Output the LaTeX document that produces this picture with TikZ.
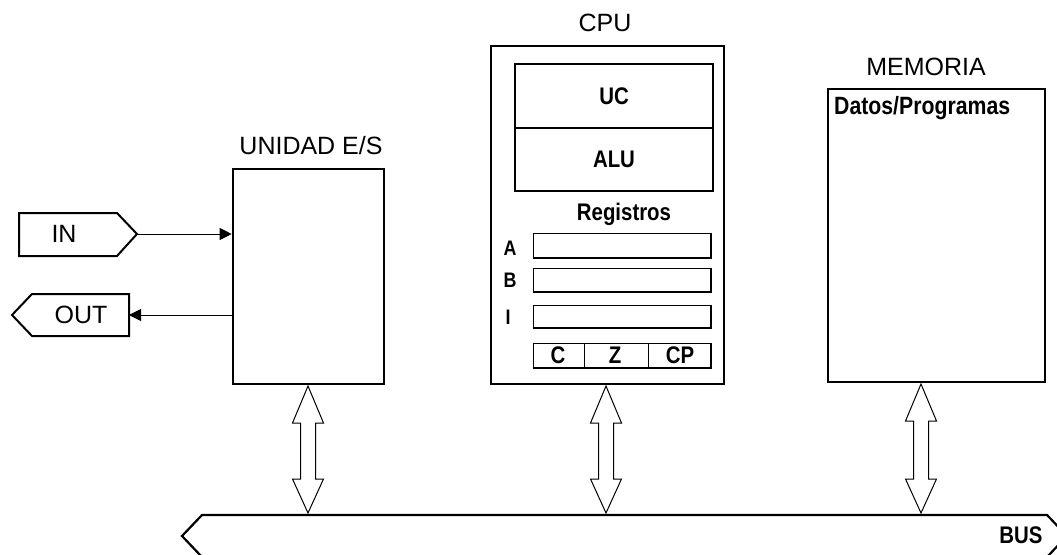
\documentclass[tikz,border=0pt]{standalone}
\usepackage{fontspec}
\setmainfont{Liberation Sans}
\newfontfamily\narrowbold[FakeStretch=0.85]{Liberation Sans Bold}
\usetikzlibrary{arrows.meta,calc}
\tikzset{
  outerbox/.style={draw, line width=2.6pt, inner sep=0pt},
  innerbox/.style={draw, line width=1.2pt, inner sep=0pt},
  regbox/.style={draw, line width=1pt, inner sep=0pt, minimum width=177pt},
  title/.style={inner sep=0pt, font=\fontsize{25}{28}\selectfont},
  lbl/.style={inner sep=0pt, font=\fontsize{24}{26}\narrowbold},
  tagline/.style={line width=2pt, line join=miter},
  sigarrow/.style={line width=1pt, -{Triangle[length=12pt,width=12pt]}},
  dbl/.style={draw, line width=1pt, fill=white, line join=miter},
}
\newcommand\dblarrow[2]{%
  \path[dbl] let \p1=(#1), \p2=(#2) in
    (\x1,\y1) -- (\x1+15.5pt,\y1-37pt) -- (\x1+7.5pt,\y1-37pt) -- (\x1+7.5pt,\y2+34pt)
    -- (\x1+15.5pt,\y2+34pt) -- (\x1,\y2) -- (\x1-15.5pt,\y2+34pt) -- (\x1-7.5pt,\y2+34pt)
    -- (\x1-7.5pt,\y1-37pt) -- (\x1-15.5pt,\y1-37pt) -- cycle;}
\begin{document}
\begin{tikzpicture}[x=1pt,y=-1pt]
\useasboundingbox[fill=white] (0,0) rectangle (1057,554);

% ---- Unidad E/S ----
\node[outerbox, minimum width=151pt, minimum height=215pt] (io) at (308.5,276.5) {};
\node[title] (iot) at (311,146) {UNIDAD E/S};

% IN tag
\coordinate (intip) at (137,234);
\draw[tagline] (19,213) -- (117,213) -- (intip) -- (117,256) -- (19,256) -- cycle;
\node[title] (in) at (64,234) {IN};
\draw[sigarrow] (intip) -- (intip -| io.west);

% OUT tag
\coordinate (outr) at (129,315);
\draw[tagline] (12,315) -- (32,294) -- (129,294) -- (129,336) -- (32,336) -- cycle;
\node[title] (out) at (81,315) {OUT};
\draw[sigarrow] (outr -| io.west) -- (outr);

% ---- CPU ----
\node[outerbox, minimum width=233pt, minimum height=338pt] (cpu) at (607.5,215) {};
\node[title] (cput) at (605,23) {CPU};
\node[innerbox, minimum width=198pt, minimum height=64pt] (uc) at (614,96) {};
\node[innerbox, minimum width=198pt, minimum height=63pt] (alu) at (614,159.5) {};
\node[lbl] at (uc) {UC};
\node[lbl] at (alu) {ALU};
\node[lbl] (regt) at (624,214.5) {Registros};

\node[regbox, minimum height=24pt] (ra) at (621.5,245) {};
\node[regbox, minimum height=23pt] (rb) at (621.5,279.5) {};
\node[regbox, minimum height=22pt] (ri) at (621.5,316) {};
\node[regbox, minimum height=24pt] (rf) at (621.5,355) {};
\foreach \r in {ra,rb,ri,rf}{
  \draw[line width=2pt] (\r.south west) -- (\r.south east) -- (\r.north east);
}
\draw[line width=1pt] (584,343) -- (584,367) (648,343) -- (648,367);
\node[lbl, font=\fontsize{21}{24}\narrowbold] (la) at (510,248) {A};
\node[lbl, font=\fontsize{21}{24}\narrowbold] (lb) at (510,280) {B};
\node[lbl, font=\fontsize{21}{24}\narrowbold] (li) at (508,317) {I};
\node[lbl] (fc) at (558,355) {C};
\node[lbl] (fz) at (615,355) {Z};
\node[lbl] (fcp) at (680,355) {CP};

% ---- Memoria ----
\node[outerbox, minimum width=217pt, minimum height=293pt] (mem) at (936.5,235.5) {};
\node[title] (memt) at (926,67) {MEMORIA};
\node[lbl, anchor=base west, font=\fontsize{25}{26}\narrowbold] (dp) at (834,114) {Datos/Programas};

% ---- BUS ----
\coordinate (busL) at (182,536);
\coordinate (busR) at (1067,536);
\draw[line width=2.2pt, line join=miter] (busL) -- (202,515) -- (1047,515) -- (busR) -- (1047,557) -- (202,557) -- cycle;
\node[lbl] (bus) at (1021,535) {BUS};
\coordinate (busio) at (308,513);
\coordinate (buscpu) at (606,513);
\coordinate (busmem) at (921,513);

% ---- double arrows ----
\coordinate (iobot) at (308,386);
\coordinate (cpubot) at (606,386);
\coordinate (membot) at (921,384);
\dblarrow{iobot}{busio}
\dblarrow{cpubot}{buscpu}
\dblarrow{membot}{busmem}
\end{tikzpicture}
\end{document}
